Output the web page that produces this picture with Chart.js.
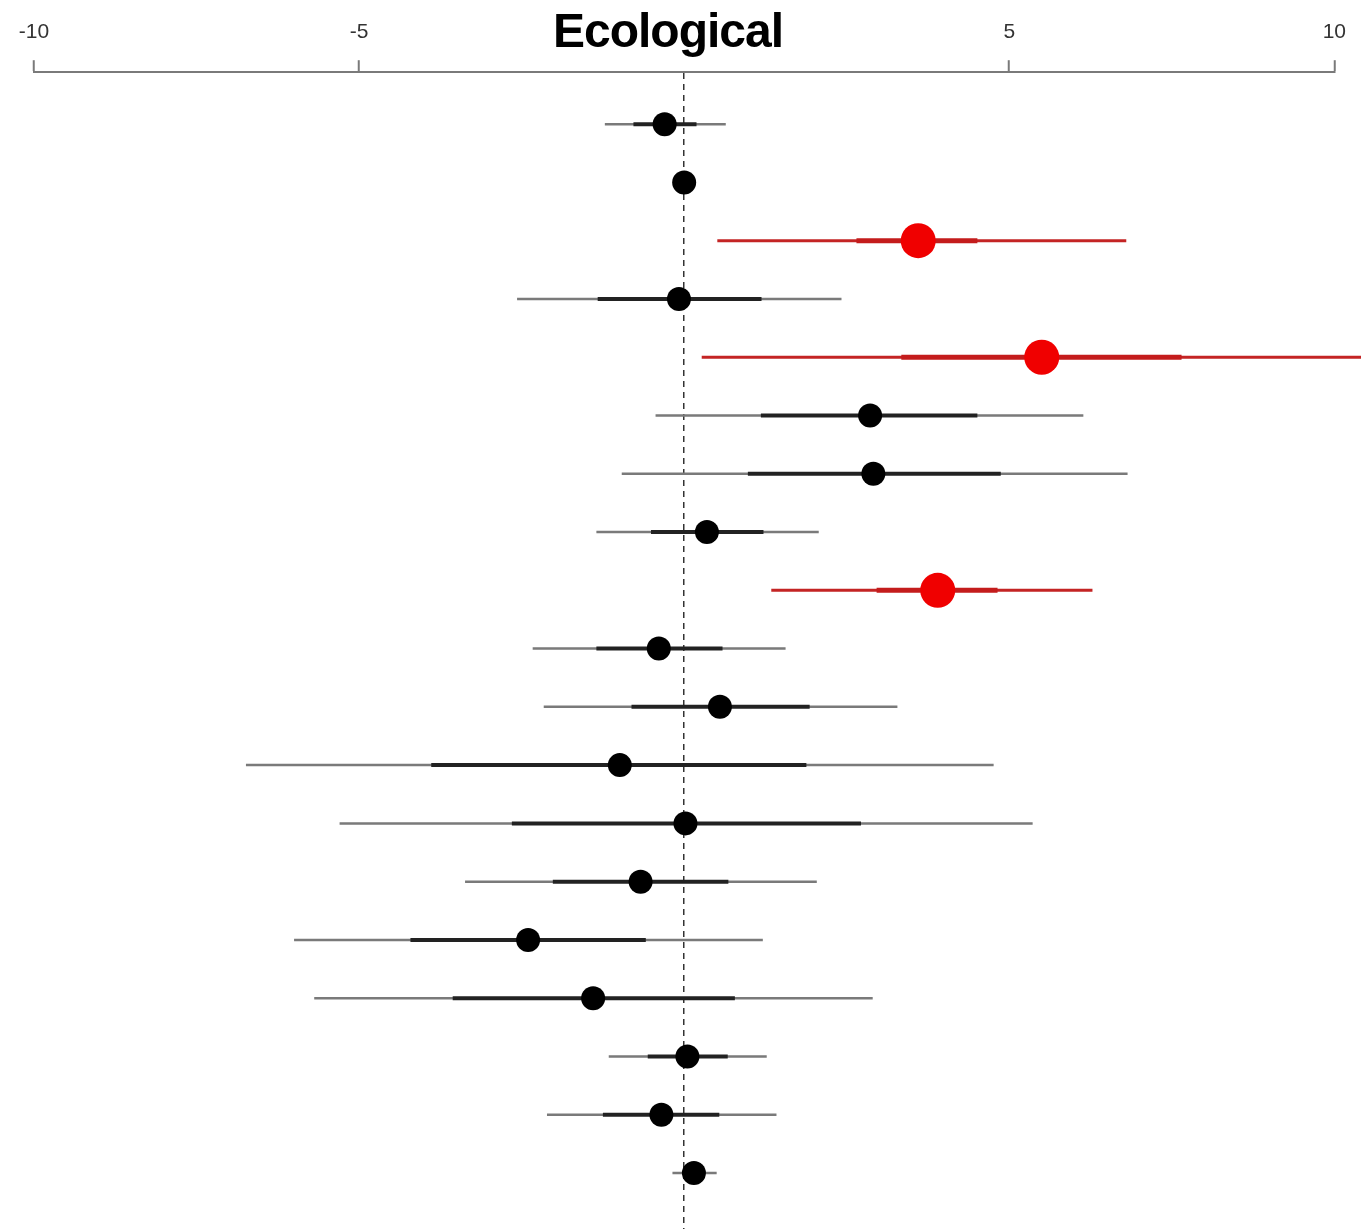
<!DOCTYPE html>
<html>
<head>
<meta charset="utf-8">
<script src="https://cdn.jsdelivr.net/npm/chart.js@4.4.1/dist/chart.umd.min.js"></script>
<style>
  html, body { margin: 0; padding: 0; background: #fff; overflow: hidden; }
  #wrap { position: relative; width: 1361px; height: 1229px; }
  #title { position: absolute; left: 0; width: 1336px; top: 7px; text-align: center;
           font: bold 48px/48px 'Liberation Sans', Arial, sans-serif; letter-spacing: -1px; color: #000; }
  canvas { display: block; }
</style>
</head>
<body>
<div id="wrap">
  <canvas id="c" width="1361" height="1229"></canvas>
  <div id="title">Ecological</div>
</div>
<script>
// ---- data ----
const rows        = [1, 2, 3, 4, 5, 6, 7, 8, 9, 10, 11, 12, 13, 14, 15, 16, 17, 18, 19];
const estimates   = [-0.30, 0.00, 3.60, -0.08, 5.50, 2.86, 2.91, 0.35, 3.90, -0.39, 0.55, -0.99, 0.02, -0.67, -2.40, -1.40, 0.05, -0.35, 0.15];
const outerLow    = [-1.22, -0.12, 0.51, -2.57, 0.27, -0.44, -0.96, -1.35, 1.34, -2.33, -2.16, -6.74, -5.30, -3.37, -6.00, -5.69, -1.16, -2.11, -0.18];
const outerHigh   = [0.64, 0.12, 6.80, 2.42, 11.00, 6.14, 6.82, 2.07, 6.28, 1.56, 3.28, 4.76, 5.36, 2.04, 1.21, 2.90, 1.27, 1.42, 0.50];
const innerLow    = [-0.78, -0.05, 2.65, -1.33, 3.34, 1.18, 0.98, -0.51, 2.96, -1.35, -0.81, -3.89, -2.65, -2.02, -4.21, -3.56, -0.56, -1.25, 0.00];
const innerHigh   = [0.19, 0.05, 4.51, 1.19, 7.65, 4.51, 4.87, 1.22, 4.82, 0.59, 1.93, 1.88, 2.72, 0.68, -0.59, 0.78, 0.67, 0.54, 0.32];
const significant = [false, false, true, false, true, false, false, false, true, false, false, false, false, false, false, false, false, false, false];
const tickValues  = [-10, -5, 0, 5, 10];
const tickLabels  = ['-10', '-5', '', '5', '10'];

// ---- build datasets from the arrays ----
function intervalData(lo, hi, pick) {
  const out = [];
  rows.forEach((r, i) => {
    if (pick(i)) {
      out.push({ x: lo[i], y: r }, { x: hi[i], y: r }, { x: null, y: null });
    }
  });
  return out;
}
function pointData(pick) {
  const out = [];
  rows.forEach((r, i) => { if (pick(i)) out.push({ x: estimates[i], y: r }); });
  return out;
}
const isSig = i => significant[i];
const notSig = i => !significant[i];

const lineDefaults = { type: 'scatter', showLine: true, pointRadius: 0, pointHoverRadius: 0, spanGaps: false, clip: false, borderCapStyle: 'butt' };

new Chart(document.getElementById('c'), {
  type: 'scatter',
  data: {
    datasets: [
      { label: 'estimate', data: pointData(notSig), pointRadius: 12, pointHoverRadius: 12,
        backgroundColor: '#000', borderColor: '#000', borderWidth: 0, clip: false },
      { label: 'estimate (red)', data: pointData(isSig), pointRadius: 17.5, pointHoverRadius: 17.5,
        backgroundColor: '#f00000', borderColor: '#f00000', borderWidth: 0, clip: false },
      Object.assign({ label: 'inner', data: intervalData(innerLow, innerHigh, notSig), borderColor: '#222', borderWidth: 4 }, lineDefaults),
      Object.assign({ label: 'outer', data: intervalData(outerLow, outerHigh, notSig), borderColor: '#7a7a7a', borderWidth: 2.5 }, lineDefaults),
      Object.assign({ label: 'inner (red)', data: intervalData(innerLow, innerHigh, isSig), borderColor: '#c41c1c', borderWidth: 5 }, lineDefaults),
      Object.assign({ label: 'outer (red)', data: intervalData(outerLow, outerHigh, isSig), borderColor: '#c42424', borderWidth: 3 }, lineDefaults)
    ]
  },
  options: {
    responsive: false,
    animation: false,
    devicePixelRatio: 1,
    events: [],
    layout: { autoPadding: false, padding: { top: 5, left: 34, right: 26, bottom: 0 } },
    plugins: { legend: { display: false }, tooltip: { enabled: false } },
    scales: {
      x: {
        type: 'linear',
        position: 'top',
        min: -10,
        max: 10,
        afterBuildTicks: s => { s.ticks = tickValues.map(v => ({ value: v })); },
        ticks: {
          autoSkip: false,
          maxRotation: 0,
          padding: 15,
          color: '#333',
          font: { family: "'Liberation Sans', Arial, sans-serif", size: 21 },
          callback: v => { const k = tickValues.indexOf(v); return k >= 0 ? tickLabels[k] : ''; }
        },
        grid: {
          drawOnChartArea: true,
          color: c => (c.tick && c.tick.value === 0) ? '#333' : 'rgba(0,0,0,0)',
          lineWidth: 1.5,
          tickLength: 12,
          tickWidth: 2,
          tickColor: c => (c.tick && c.tick.value === 0) ? 'rgba(0,0,0,0)' : '#7a7a7a'
        },
        border: {
          display: true,
          color: '#7a7a7a',
          width: 2,
          dash: c => (c.tick && c.tick.value === 0) ? [6, 5] : []
        }
      },
      y: {
        type: 'linear',
        display: false,
        reverse: true,
        min: 0.1085,
        max: 19.961
      }
    }
  }
});
</script>
</body>
</html>
